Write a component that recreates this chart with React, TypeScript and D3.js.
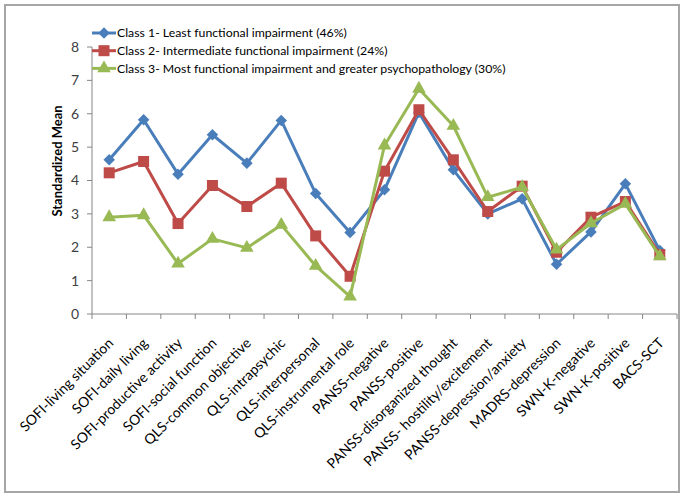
import React from "react";
import * as d3 from "d3";

const categories = [
  "SOFI-living situation",
  "SOFI-daily living",
  "SOFI-productive activity",
  "SOFI-social function",
  "QLS-common objective",
  "QLS-intrapsychic",
  "QLS-interpersonal",
  "QLS-instrumental role",
  "PANSS-negative",
  "PANSS-positive",
  "PANSS-disorganized thought",
  "PANSS- hostility/excitement",
  "PANSS-depression/anxiety",
  "MADRS-depression",
  "SWN-K-negative",
  "SWN-K-positive",
  "BACS-SCT",
];

const class1 = [4.62, 5.82, 4.19, 5.37, 4.52, 5.8, 3.61, 2.44, 3.72, 6.04, 4.32, 3.0, 3.45, 1.49, 2.46, 3.9, 1.9];
const class2 = [4.23, 4.57, 2.71, 3.85, 3.22, 3.92, 2.34, 1.13, 4.28, 6.12, 4.62, 3.07, 3.83, 1.85, 2.9, 3.37, 1.78];
const class3 = [2.9, 2.96, 1.51, 2.25, 1.98, 2.67, 1.44, 0.52, 5.05, 6.75, 5.64, 3.5, 3.8, 1.93, 2.72, 3.3, 1.73];

const seriesNames = [
  "Class 1- Least functional impairment (46%)",
  "Class 2- Intermediate functional impairment (24%)",
  "Class 3- Most functional impairment and greater psychopathology (30%)",
];

const yTicks = [0, 1, 2, 3, 4, 5, 6, 7, 8];

const FONT = "Lato, 'Open Sans', sans-serif";

function Marker({ kind, x, y, color }: { kind: string; x: number; y: number; color: string }) {
  if (kind === "diamond") {
    const s = d3.symbol().type(d3.symbolDiamond2).size(85)();
    return <path d={s as string} transform={`translate(${x},${y})`} fill={color} />;
  }
  if (kind === "square") {
    return <rect x={x - 5.5} y={y - 5.5} width={11} height={11} fill={color} />;
  }
  const s = d3.symbol().type(d3.symbolTriangle).size(80)();
  return <path d={s as string} transform={`translate(${x},${y})`} fill={color} />;
}

export default function App() {
  const W = 685;
  const H = 498;
  const left = 92;
  const right = 677;
  const top = 47;
  const bottom = 314;

  const x = d3.scaleBand<string>().domain(categories).range([left, right]).padding(0);
  const y = d3.scaleLinear().domain([0, 8]).range([bottom, top]);

  const series = [
    { name: seriesNames[0], values: class1, color: "#4A7EBB", marker: "diamond" },
    { name: seriesNames[1], values: class2, color: "#BE4B48", marker: "square" },
    { name: seriesNames[2], values: class3, color: "#98B954", marker: "triangle" },
  ];

  const cxOf = (i: number) => (x(categories[i]) as number) + x.bandwidth() / 2;

  const line = d3
    .line<number>()
    .x((_, i) => cxOf(i))
    .y((d) => y(d));

  const boundaries = d3.range(categories.length + 1).map((i) => left + i * x.step());

  return (
    <svg
      width={W}
      height={H}
      style={{ position: "absolute", left: 0, top: 0, background: "#fff" }}
      fontFamily={FONT}
    >
      <rect x={5} y={5} width={674} height={487} fill="#fff" stroke="#A6A6A6" strokeWidth={2} />

      {/* y axis */}
      <line x1={left} x2={left} y1={top} y2={bottom} stroke="#868686" strokeWidth={1} />
      {yTicks.map((t) => (
        <g key={t}>
          <line x1={left - 5} x2={left} y1={y(t)} y2={y(t)} stroke="#868686" />
          <text x={left - 13} y={y(t)} dy="0.35em" textAnchor="end" fontSize={14} fill="#404040">
            {t}
          </text>
        </g>
      ))}
      <text
        transform={`translate(${57},${161}) rotate(-90)`}
        textAnchor="middle"
        dy="0.35em"
        fontSize={13}
        fontWeight="bold"
        fill="#000"
      >
        Standardized Mean
      </text>

      {/* x axis */}
      <line x1={left} x2={right} y1={bottom} y2={bottom} stroke="#868686" />
      {boundaries.map((b, i) => (
        <line key={i} x1={b} x2={b} y1={bottom} y2={bottom + 5} stroke="#868686" />
      ))}
      {categories.map((c, i) => (
        <text
          key={c}
          transform={`translate(${cxOf(i) + 5},${344}) rotate(-45)`}
          textAnchor="end"
          fontSize={14}
          fill="#000"
        >
          {c}
        </text>
      ))}

      {/* lines */}
      {series.map((s) => (
        <g key={s.name}>
          <path d={line(s.values) as string} fill="none" stroke={s.color} strokeWidth={3} strokeLinejoin="round" />
          {s.values.map((v, i) => (
            <Marker key={i} kind={s.marker} x={cxOf(i)} y={y(v)} color={s.color} />
          ))}
        </g>
      ))}

      {/* legend */}
      {series.map((s, i) => {
        const ly = 33 + i * 17.7;
        return (
          <g key={s.name}>
            <line x1={92} x2={116} y1={ly} y2={ly} stroke={s.color} strokeWidth={3} />
            <Marker kind={s.marker} x={104} y={ly} color={s.color} />
            <text x={117} y={ly} dy="0.35em" fontSize={12.3} fill="#000">
              {s.name}
            </text>
          </g>
        );
      })}
    </svg>
  );
}
